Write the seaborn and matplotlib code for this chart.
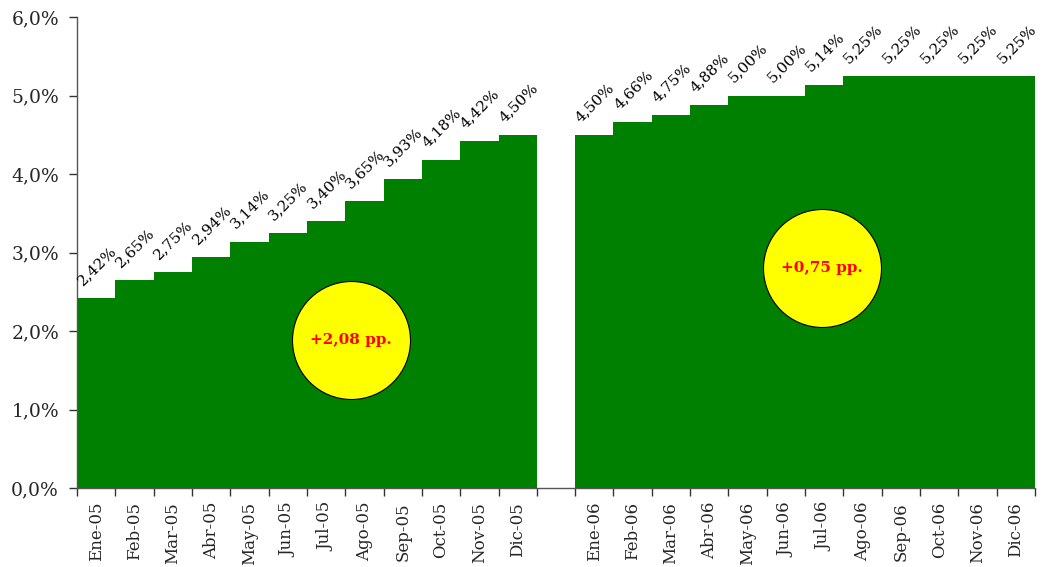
import matplotlib
matplotlib.use("Agg")
import matplotlib.pyplot as plt
import matplotlib.ticker as mticker
import seaborn as sns
import pandas as pd
import numpy as np

months_05 = ["Ene-05", "Feb-05", "Mar-05", "Abr-05", "May-05", "Jun-05",
             "Jul-05", "Ago-05", "Sep-05", "Oct-05", "Nov-05", "Dic-05"]
months_06 = ["Ene-06", "Feb-06", "Mar-06", "Abr-06", "May-06", "Jun-06",
             "Jul-06", "Ago-06", "Sep-06", "Oct-06", "Nov-06", "Dic-06"]
rates_05 = [2.42, 2.65, 2.75, 2.94, 3.14, 3.25, 3.40, 3.65, 3.93, 4.18, 4.42, 4.50]
rates_06 = [4.50, 4.66, 4.75, 4.88, 5.00, 5.00, 5.14, 5.25, 5.25, 5.25, 5.25, 5.25]
bubble_texts = ["+2,08 pp.", "+0,75 pp."]
bubble_x = [6.65, 18.95]
bubble_y = [1.88, 2.80]

sns.set_style("white")
plt.rcParams['font.family'] = ['DejaVu Serif']

order = months_05 + [" "] + months_06
df = pd.DataFrame({"mes": months_05 + months_06, "tasa": rates_05 + rates_06})

fig = plt.figure(figsize=(10.42, 5.67), dpi=100)
ax = fig.add_axes([77/1042, 1 - 488/567, (1035-77)/1042, (488-17)/567])

sns.barplot(data=df, x="mes", y="tasa", order=order, color="#008000",
            saturation=1, width=1.0, linewidth=0, edgecolor="none", ax=ax)

ax.set_xlim(-0.5, len(order) - 0.5)
ax.set_ylim(0, 6)
ax.yaxis.set_major_locator(mticker.MultipleLocator(1))
ax.yaxis.set_major_formatter(mticker.FuncFormatter(lambda v, p: f"{v:.1f}%".replace(".", ",")))
ax.set_xlabel("")
ax.set_ylabel("")

ax.set_xticks(range(len(order)))
ax.set_xticklabels(order, rotation=90, fontsize=12)
ax.set_xticks(np.arange(-0.5, len(order), 1.0), minor=True)
ax.tick_params(axis="x", which="major", bottom=True, length=0, pad=10)
ax.tick_params(axis="x", which="minor", bottom=True, length=6, width=1, color="#333333",
               direction="out")
ax.tick_params(axis="y", which="major", left=True, length=6, width=1, color="#333333",
               direction="out", labelsize=13.5, pad=7)

for s in ["top", "right"]:
    ax.spines[s].set_visible(False)
for s in ["left", "bottom"]:
    ax.spines[s].set_color("#555555")
    ax.spines[s].set_linewidth(1)

positions = list(range(12)) + list(range(13, 25))
for xpos, val in zip(positions, rates_05 + rates_06):
    ax.text(xpos - 0.3, val + 0.13, f"{val:.2f}%".replace(".", ","), rotation=45,
            rotation_mode="anchor", ha="left", va="bottom", fontsize=11, color="black")

ax.scatter(bubble_x, bubble_y, s=(118 * 72 / 100) ** 2, color="#FFFF00",
           edgecolor="black", linewidth=0.8, zorder=5)
for bx, by, t in zip(bubble_x, bubble_y, bubble_texts):
    ax.text(bx, by, t, ha="center", va="center", fontsize=11, fontweight="bold",
            color="#FF0000", zorder=6)

fig.savefig("out.png", dpi=100)
